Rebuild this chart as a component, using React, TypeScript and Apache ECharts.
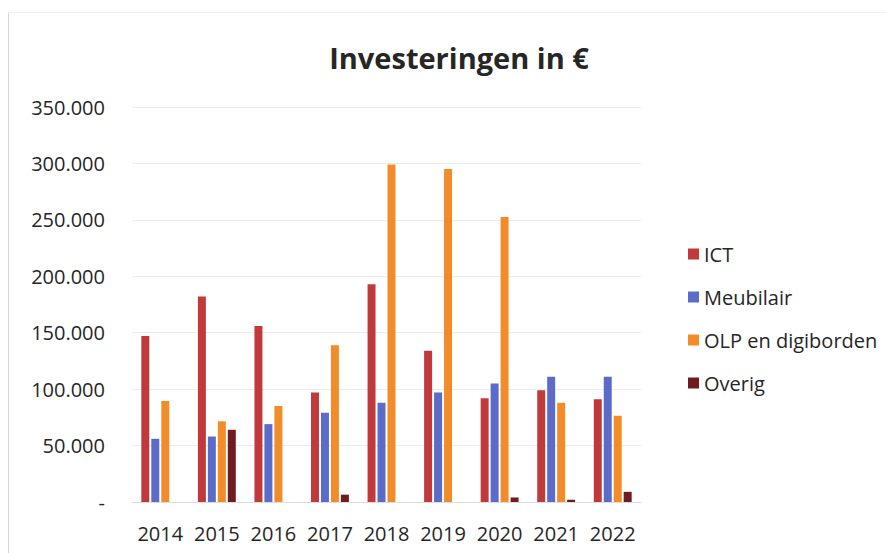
import React, { useEffect, useRef } from "react";
import * as echarts from "echarts";

const years = ["2014", "2015", "2016", "2017", "2018", "2019", "2020", "2021", "2022"];
const ict = [147000, 182000, 156000, 97000, 193000, 134000, 92000, 99000, 91000];
const meubilair = [56000, 58000, 69000, 79000, 88000, 97000, 105000, 111000, 111000];
const olp = [89500, 71500, 85000, 139000, 299000, 295000, 252500, 88000, 76500];
const overig = [0, 64000, 0, 6500, 0, 0, 4000, 2000, 9000];
const seriesNames = ["ICT", "Meubilair", "OLP en digiborden", "Overig"];
const colors = ["#C0393B", "#5A6BC9", "#F28C28", "#6E1C1F"];
const FONT = '"Open Sans", "Noto Sans", sans-serif';

function fmt(v: number): string {
  if (v === 0) return "-";
  return String(Math.round(v)).replace(/\B(?=(\d{3})+(?!\d))/g, ".");
}

export default function App() {
  const ref = useRef<HTMLDivElement>(null);
  useEffect(() => {
    if (!ref.current) return;
    const chart = echarts.init(ref.current, null, { renderer: "svg" });
    const data = [ict, meubilair, olp, overig];
    chart.setOption({
      animation: false,
      backgroundColor: "#ffffff",
      textStyle: { fontFamily: FONT },
      title: {
        text: "Investeringen in €",
        left: 454,
        textAlign: "center",
        top: 38,
        textStyle: { fontFamily: FONT, fontSize: 29, fontWeight: "bold", color: "#262626" },
      },
      legend: {
        orient: "vertical",
        left: 683,
        top: 239,
        itemWidth: 11,
        itemHeight: 11,
        itemGap: 23,
        icon: "rect",
        data: seriesNames,
        textStyle: { fontFamily: FONT, fontSize: 20, lineHeight: 20, color: "#262626" },
      },
      grid: { left: 132, right: 245, top: 107, bottom: 51, containLabel: false },
      xAxis: {
        type: "category",
        data: years,
        axisTick: { show: false },
        axisLine: { show: true, lineStyle: { color: "#dcdcdc", width: 1 } },
        axisLabel: { fontFamily: FONT, fontSize: 20, color: "#262626", margin: 21, interval: 0 },
      },
      yAxis: {
        type: "value",
        min: 0,
        max: 350000,
        interval: 50000,
        axisLine: { show: false },
        axisTick: { show: false },
        splitLine: { lineStyle: { color: "#ececec", width: 1 } },
        axisLabel: {
          fontFamily: FONT,
          fontSize: 20,
          color: "#262626",
          margin: 27,
          formatter: (v: number) => fmt(v),
        },
      },
      graphic: [
        { type: "line", shape: { x1: 8.5, y1: 12, x2: 8.5, y2: 553 }, style: { stroke: "#d4d4d4", lineWidth: 1 } },
        { type: "line", shape: { x1: 8, y1: 12.5, x2: 886, y2: 12.5 }, style: { stroke: "#f0f0f0", lineWidth: 1 } },
      ],
      series: seriesNames.map((name, i) => ({
        name,
        type: "bar",
        data: data[i],
        barGap: "25%",
        barCategoryGap: "33%",
        itemStyle: { color: colors[i] },
      })),
    });
    return () => chart.dispose();
  }, []);
  return (
    <div
      ref={ref}
      style={{ position: "absolute", left: 0, top: 0, width: 886, height: 553 }}
    />
  );
}
